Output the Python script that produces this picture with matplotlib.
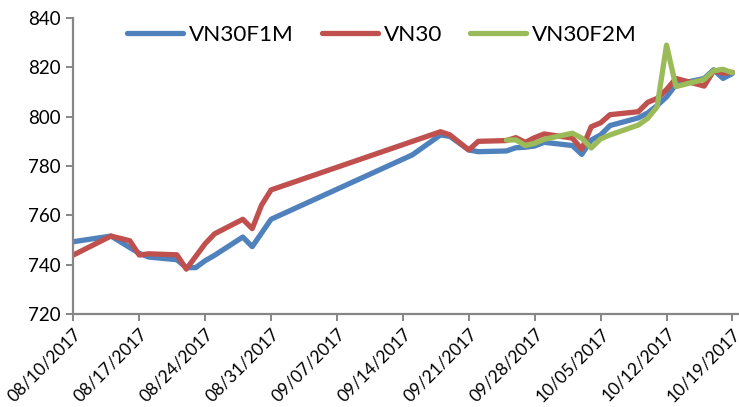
import matplotlib
matplotlib.use("Agg")
import matplotlib.pyplot as plt
import matplotlib.dates as mdates
import numpy as np
import pandas as pd

plt.rcParams['font.family'] = ['Lato', 'DejaVu Sans']

# ---- data ----
f1m_dates = ["2017-08-10", "2017-08-14", "2017-08-17", "2017-08-18", "2017-08-21",
             "2017-08-22", "2017-08-23", "2017-08-24", "2017-08-25", "2017-08-28",
             "2017-08-29", "2017-08-31", "2017-09-15", "2017-09-18", "2017-09-19",
             "2017-09-21", "2017-09-22", "2017-09-25", "2017-09-26", "2017-09-27",
             "2017-09-28", "2017-09-29", "2017-10-02", "2017-10-03", "2017-10-04",
             "2017-10-05", "2017-10-06", "2017-10-09", "2017-10-10", "2017-10-11",
             "2017-10-12", "2017-10-13", "2017-10-16", "2017-10-17", "2017-10-18",
             "2017-10-19"]
f1m_values = [749.3, 751.6, 744.6, 743.1, 742.0,
              738.8, 738.8, 741.6, 743.8, 751.2,
              747.3, 758.4, 784.5, 792.6, 792.0,
              786.5, 785.8, 786.1, 787.4, 787.6,
              788.1, 789.6, 788.3, 784.7, 790.5,
              792.6, 796.4, 799.5, 801.5, 804.5,
              808.0, 813.0, 815.5, 819.0, 815.5,
              817.5]

vn30_dates = ["2017-08-10", "2017-08-14", "2017-08-16", "2017-08-17", "2017-08-18",
              "2017-08-21", "2017-08-22", "2017-08-24", "2017-08-25", "2017-08-28",
              "2017-08-29", "2017-08-30", "2017-08-31", "2017-09-18", "2017-09-19",
              "2017-09-21", "2017-09-22", "2017-09-25", "2017-09-26", "2017-09-27",
              "2017-09-28", "2017-09-29", "2017-10-02", "2017-10-03", "2017-10-04",
              "2017-10-05", "2017-10-06", "2017-10-09", "2017-10-10", "2017-10-11",
              "2017-10-12", "2017-10-13", "2017-10-16", "2017-10-17", "2017-10-18",
              "2017-10-19"]
vn30_values = [743.9, 751.6, 749.7, 743.9, 744.4,
               744.0, 738.2, 748.5, 752.5, 758.4,
               754.6, 764.2, 770.3, 793.9, 792.6,
               786.5, 790.0, 790.3, 791.5, 789.6,
               791.5, 793.0, 791.3, 786.8, 795.9,
               797.5, 800.8, 802.0, 805.8, 807.4,
               811.0, 815.5, 812.4, 818.6, 817.6,
               818.0]

f2m_dates = ["2017-09-25", "2017-09-26", "2017-09-27", "2017-09-28", "2017-09-29",
             "2017-10-02", "2017-10-03", "2017-10-04", "2017-10-05", "2017-10-06",
             "2017-10-09", "2017-10-10", "2017-10-11", "2017-10-12", "2017-10-13",
             "2017-10-16", "2017-10-17", "2017-10-18", "2017-10-19"]
f2m_values = [790.5, 790.6, 788.3, 789.2, 790.8,
              793.3, 791.3, 787.3, 791.0, 792.6,
              796.6, 799.3, 804.0, 829.0, 812.2,
              815.1, 818.6, 819.2, 817.8]

series_names = ["VN30F1M", "VN30", "VN30F2M"]
series_colors = ["#4F81BD", "#C0504D", "#9BBB59"]

y_ticks = [720, 740, 760, 780, 800, 820, 840]
x_start = "2017-08-10"
x_end = "2017-10-19"

# ---- figure ----
W, H = 739, 407
fig = plt.figure(figsize=(W / 100, H / 100), dpi=100)
left, right = 73.3 / W, 739.5 / W
bottom, top = (H - 314) / H, (H - 18) / H
ax = fig.add_axes([left, bottom, right - left, top - bottom])

for d, v, name, c in zip([f1m_dates, vn30_dates, f2m_dates],
                         [f1m_values, vn30_values, f2m_values],
                         series_names, series_colors):
    ax.plot(pd.to_datetime(d), v, color=c, lw=3.8, label=name,
            solid_joinstyle='round', solid_capstyle='round')

t0 = pd.Timestamp(x_start)
t1 = pd.Timestamp(x_end)
ax.set_xlim(mdates.date2num(t0), mdates.date2num(t1) + 0.75)
ax.set_ylim(720, 840)
ax.set_yticks(y_ticks)
ax.set_yticklabels([str(t) for t in y_ticks])
xt = pd.date_range(t0, t1, freq="7D")
ax.set_xticks(mdates.date2num(xt))
ax.set_xticklabels([t.strftime("%m/%d/%Y") for t in xt], rotation=45,
                   ha='right', va='top', rotation_mode='anchor')

spine_c = "#868686"
for s in ['top', 'right']:
    ax.spines[s].set_visible(False)
for s in ['left', 'bottom']:
    ax.spines[s].set_color(spine_c)
    ax.spines[s].set_linewidth(1.6)
ax.tick_params(axis='both', colors=spine_c, width=1.4, length=5, direction='out',
               labelcolor='black', labelsize=12.5)
ax.tick_params(axis='x', pad=3)
ax.tick_params(axis='y', pad=4)
for lab in ax.get_yticklabels():
    lab.set_fontsize(13.5)

leg = ax.legend(loc='center left', bbox_to_anchor=(127 / W, 1 - 35 / H),
                bbox_transform=fig.transFigure, ncol=3, frameon=False,
                fontsize=16.2, handlelength=2.5, handletextpad=0.25,
                columnspacing=1.25, borderpad=0, borderaxespad=0)
for h in leg.get_lines():
    h.set_linewidth(3.8)

fig.savefig("out.png", dpi=100)
